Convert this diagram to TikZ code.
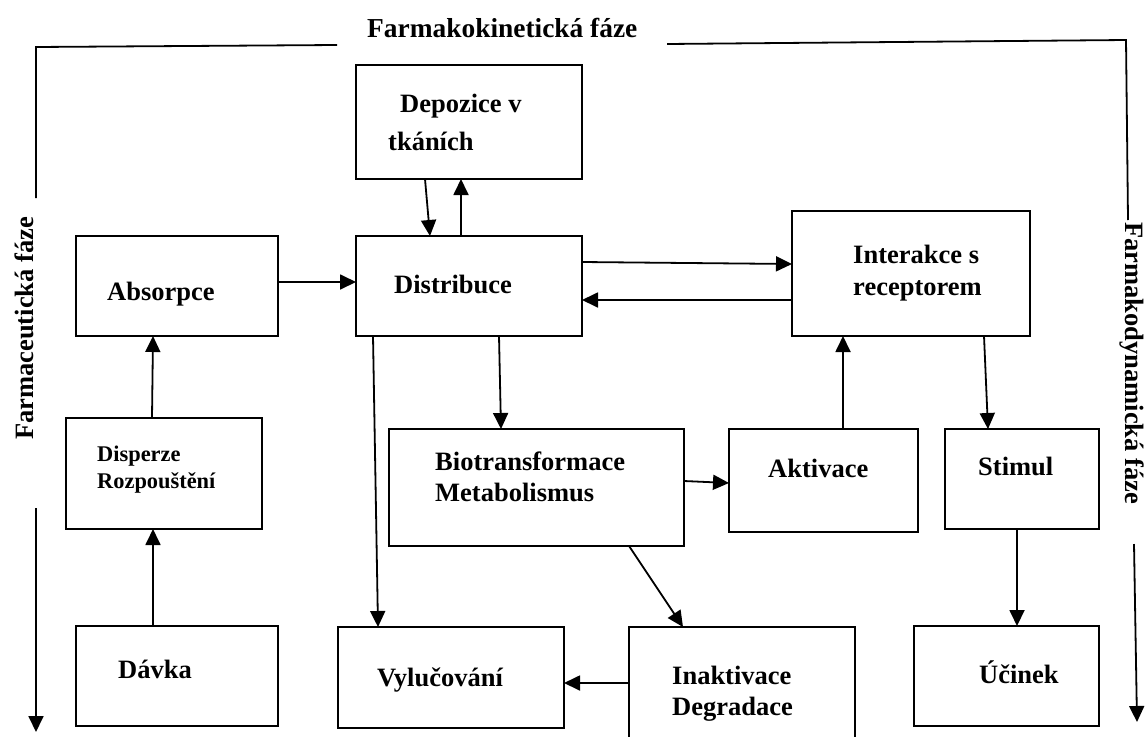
\documentclass[tikz,border=0pt]{standalone}
\usepackage{fontspec}
\setmainfont{Liberation Serif}
\usetikzlibrary{arrows.meta,calc}
\begin{document}
\begin{tikzpicture}[x=1pt,y=-1pt,
  box/.style={draw,line width=1.8pt,inner sep=0pt,outer sep=0pt,anchor=north west},
  lbl/.style={anchor=base west,inner sep=0pt,font=\fontsize{26.5}{30}\selectfont\bfseries},
  slbl/.style={anchor=base west,inner sep=0pt,font=\fontsize{22.4}{26}\selectfont\bfseries},
  arr/.style={line width=1.8pt,-{Triangle[length=16pt,width=15pt]}},
  frame/.style={line width=1.8pt}]
\useasboundingbox (0,0) rectangle (1147,736);
\clip (0,0) rectangle (1147,736);
% boxes
\node[box,minimum width=226pt,minimum height=114pt] (dep) at (356,65) {};
\node[box,minimum width=202pt,minimum height=100pt] (abs) at (76,236) {};
\node[box,minimum width=226pt,minimum height=100pt] (dist) at (356,236) {};
\node[box,minimum width=238pt,minimum height=125pt] (inter) at (792,211) {};
\node[box,minimum width=196pt,minimum height=111pt] (disp) at (66,418) {};
\node[box,minimum width=295pt,minimum height=117pt] (bio) at (389,429) {};
\node[box,minimum width=189pt,minimum height=103pt] (akt) at (729,429) {};
\node[box,minimum width=154pt,minimum height=100pt] (stim) at (945,429) {};
\node[box,minimum width=202pt,minimum height=100pt] (davka) at (76,626) {};
\node[box,minimum width=226pt,minimum height=101pt] (vyl) at (338,627) {};
\node[box,minimum width=226pt,minimum height=130pt] (inak) at (629,627) {};
\node[box,minimum width=185pt,minimum height=100pt] (ucin) at (914,626) {};
% labels
\node[lbl,font=\fontsize{27.4}{31}\selectfont\bfseries] (tkin) at (367,37) {Farmakokinetická fáze};
\node[lbl] (tdep1) at (400,112) {Depozice v};
\node[lbl] (tdep2) at (388,150) {tkáních};
\node[lbl] (tabs) at (107,300) {Absorpce};
\node[lbl] (tdist) at (394,293) {Distribuce};
\node[lbl] (tint1) at (853,263) {Interakce s};
\node[lbl] (tint2) at (853,295) {receptorem};
\node[slbl] (tdisp1) at (97,461) {Disperze};
\node[slbl] (tdisp2) at (97,488) {Rozpouštění};
\node[lbl] (tbio1) at (435,470) {Biotransformace};
\node[lbl] (tbio2) at (435,501) {Metabolismus};
\node[lbl] (takt) at (768,477) {Aktivace};
\node[lbl] (tstim) at (978,475) {Stimul};
\node[lbl] (tdav) at (118,678) {Dávka};
\node[lbl] (tvyl) at (377,686) {Vylučování};
\node[lbl] (tina1) at (672,684) {Inaktivace};
\node[lbl] (tina2) at (672,715) {Degradace};
\node[lbl] (tuc) at (979,683) {Účinek};
\node[lbl,rotate=90] (tfc) at (33,440) {Farmaceutická fáze};
\node[lbl,rotate=-90] (tfd) at (1125,222) {Farmakodynamická fáze};
% frame lines
\draw[frame] (36,198) -- (36,47) -- (337,45);
\draw[frame] (667,44) -- (1126,40) -- (1128,220);
\coordinate (la1) at (36,508); \coordinate (la2) at (36,732);
\coordinate (ra1) at (1134,544); \coordinate (ra2) at (1137,722);
\draw[arr] (la1) -- (la2);
\draw[arr] (ra1) -- (ra2);
% connectors
\draw[arr] ([xshift=77pt]davka.north west) -- ([xshift=87pt]disp.south west);
\draw[arr] ([xshift=86pt]disp.north west) -- ([xshift=77pt]abs.south west);
\draw[arr] ([yshift=-46pt]abs.north east) -- ([yshift=-46pt]dist.north west);
\draw[arr] ([xshift=69pt]dep.south west) -- ([xshift=74pt]dist.north west);
\draw[arr] ([xshift=105pt]dist.north west) -- ([xshift=105pt]dep.south west);
\draw[arr] ([yshift=-26pt]dist.north east) -- ([yshift=-53pt]inter.north west);
\draw[arr] ([yshift=-89pt]inter.north west) -- ([yshift=-64pt]dist.north east);
\draw[arr] ([xshift=17pt]dist.south west) -- ([xshift=40pt]vyl.north west);
\draw[arr] ([xshift=143pt]dist.south west) -- ([xshift=112pt]bio.north west);
\draw[arr] ([yshift=-52pt]bio.north east) -- ([yshift=-54pt]akt.north west);
\draw[arr] ([xshift=114pt]akt.north west) -- ([xshift=51pt]inter.south west);
\draw[arr] ([xshift=240pt]bio.south west) -- ([xshift=54pt]inak.north west);
\draw[arr] ([yshift=-56pt]inak.north west) -- ([yshift=-56pt]vyl.north east);
\draw[arr] ([xshift=192pt]inter.south west) -- ([xshift=43pt]stim.north west);
\draw[arr] ([xshift=72pt]stim.south west) -- ([xshift=103pt]ucin.north west);
\end{tikzpicture}
\end{document}
